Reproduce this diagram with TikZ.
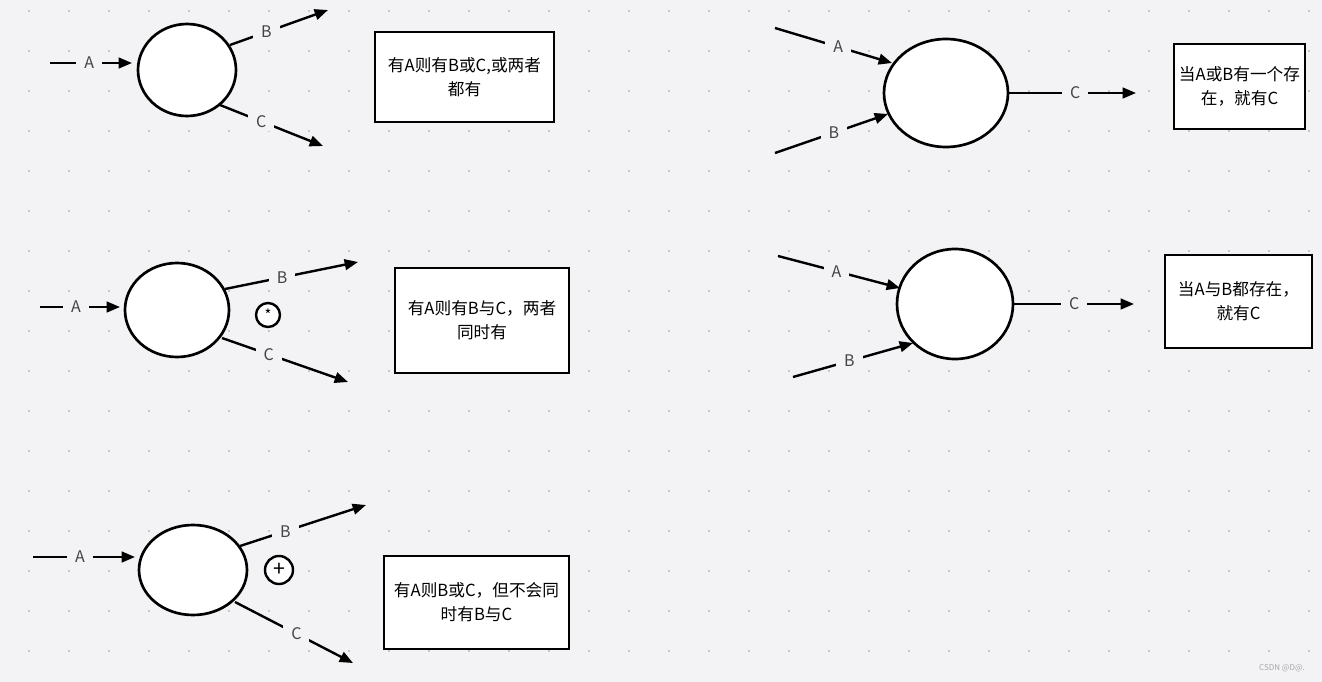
\documentclass[tikz,border=0pt]{standalone}
\usepackage{fontspec}
\setmainfont{Noto Sans CJK SC}
\usetikzlibrary{shapes.geometric,arrows.meta}
\definecolor{bg}{HTML}{F3F3F5}
\definecolor{dotc}{HTML}{C8C8CC}
\definecolor{lab}{HTML}{444444}
\tikzset{
  ell/.style={ellipse,draw,line width=2pt,fill=white,inner sep=0pt},
  conn/.style={line width=1.8pt,-{Triangle[length=10pt,width=8pt]}},
  lbl/.style={pos=#1,fill=bg,text=lab,font=\fontsize{12}{14}\selectfont,inner xsep=6pt,inner ysep=3pt},
  lbl/.default=0.45,
  box/.style={draw,line width=1.8pt,fill=white,align=center,font=\fontsize{12.5}{18}\selectfont,inner sep=0pt},
  sym/.style={circle,draw,line width=1.8pt,fill=white,inner sep=0pt}
}
\begin{document}
\begin{tikzpicture}[x=0.75pt,y=-0.75pt]
\fill[bg] (0,0) rectangle (1322,682);
\useasboundingbox (0,0) rectangle (1322,682);
\foreach \i in {0,...,32} \foreach \j in {0,...,16}
  \fill[dotc] (29+40*\i-1,11+40*\j-1) rectangle ++(2,2);
% 1
\node[ell,minimum width=73.5pt,minimum height=69pt] (e1) at (187,70) {};
\coordinate (a1) at (50,63); \coordinate (b1) at (328,10); \coordinate (c1) at (323,146);
\coordinate (b1s) at (230,45); \coordinate (c1s) at (220,105);
\draw[conn] (a1) -- node[lbl=0.48]{A} (132,63);
\draw[conn] (b1s) -- node[lbl=0.37]{B} (b1);
\draw[conn] (c1s) -- node[lbl=0.4]{C} (c1);
\node[box,minimum width=134.25pt,minimum height=67.5pt] (t1) at (464.5,77) {有A则有B或C,或两者\\都有};
% 2
\node[ell,minimum width=78pt,minimum height=70.5pt] (e2) at (177,310) {};
\coordinate (a2) at (40,307); \coordinate (b2s) at (225,289); \coordinate (b2) at (358,262);
\coordinate (c2s) at (222,338); \coordinate (c2) at (348,382);
\draw[conn] (a2) -- node[lbl=0.45]{A} (120,307);
\draw[conn] (b2s) -- node[lbl=0.43]{B} (b2);
\draw[conn] (c2s) -- node[lbl=0.37]{C} (c2);
\node[sym,minimum size=18pt,font=\fontsize{11}{11}\selectfont] (s2) at (268,315) {*};
\node[box,minimum width=130.5pt,minimum height=78.75pt] (t2) at (482,320.5) {有A则有B与C，两者\\同时有};
% 3
\node[ell,minimum width=81pt,minimum height=67.5pt] (e3) at (193,570) {};
\coordinate (a3) at (33,557); \coordinate (b3s) at (240,546); \coordinate (b3) at (366,505);
\coordinate (c3s) at (235,602); \coordinate (c3) at (353,663);
\draw[conn] (a3) -- node[lbl=0.46]{A} (135,557);
\draw[conn] (b3s) -- node[lbl=0.36]{B} (b3);
\draw[conn] (c3s) -- node[lbl=0.52]{C} (c3);
\node[sym,minimum size=21pt,font=\fontsize{16}{16}\selectfont] (s3) at (279,570) {+};
\node[box,minimum width=138.75pt,minimum height=69.75pt] (t3) at (476.5,602.5) {有A则B或C，但不会同\\时有B与C};
% 4
\node[ell,minimum width=93pt,minimum height=81pt] (e4) at (946,93) {};
\coordinate (a4) at (775,28); \coordinate (b4) at (775,153); \coordinate (c4) at (1136,93);
\draw[conn] (a4) -- node[lbl=0.54]{A} (892,63);
\draw[conn] (b4) -- node[lbl=0.52]{B} (888,114);
\draw[conn] (e4.east) -- node[lbl=0.52]{C} (c4);
\node[box,minimum width=98.25pt,minimum height=63.75pt] (t4) at (1239.5,86.5) {当A或B有一个存\\在，就有C};
% 5
\node[ell,minimum width=87pt,minimum height=82.5pt] (e5) at (955,304) {};
\coordinate (a5) at (778,256); \coordinate (b5) at (793,377); \coordinate (c5) at (1134,304);
\draw[conn] (a5) -- node[lbl=0.48]{A} (900,288);
\draw[conn] (b5) -- node[lbl=0.47]{B} (913,343);
\draw[conn] (e5.east) -- node[lbl=0.5]{C} (c5);
\node[box,minimum width=110.25pt,minimum height=69.75pt] (t5) at (1238.5,301.5) {当A与B都存在，\\就有C};
\node[text=gray!70,font=\fontsize{6}{6}\selectfont] (wm) at (1282,668) {CSDN @D@.};
\end{tikzpicture}
\end{document}
